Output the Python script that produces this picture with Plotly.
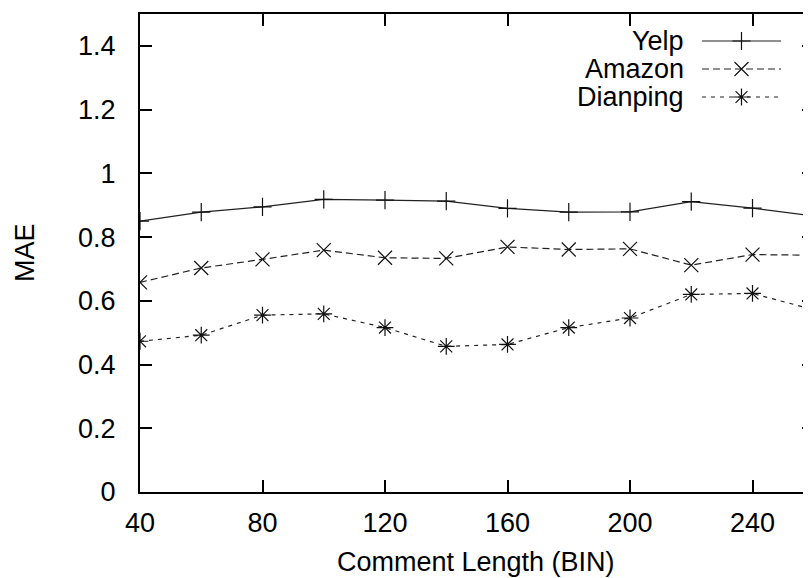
import plotly.graph_objects as go

# comment length bins
bins = [40, 60, 80, 100, 120, 140, 160, 180, 200, 220, 240, 260]

yelp = [0.850, 0.878, 0.895, 0.918, 0.916, 0.913, 0.890, 0.878, 0.879, 0.911, 0.891, 0.866]
amazon = [0.658, 0.703, 0.730, 0.759, 0.735, 0.733, 0.769, 0.761, 0.763, 0.712, 0.745, 0.743]
dianping = [0.473, 0.492, 0.555, 0.559, 0.516, 0.457, 0.463, 0.516, 0.546, 0.620, 0.623, 0.572]

series_names = ["Yelp", "Amazon", "Dianping"]
x_ticks = [40, 80, 120, 160, 200, 240]
y_ticks = [0, 0.2, 0.4, 0.6, 0.8, 1, 1.2, 1.4]

FONT = "Liberation Sans, Arial, sans-serif"
FS = 27
INK = "#111"
styles = [
    dict(dash="solid", symbol="cross-thin-open", size=13),
    dict(dash="7px,4px", symbol="x-thin-open", size=14),
    dict(dash="4px,5px", symbol="asterisk-open", size=14),
]

fig = go.Figure()
for name, vals, st in zip(series_names, [yelp, amazon, dianping], styles):
    fig.add_trace(
        go.Scatter(
            x=bins,
            y=vals,
            name=name,
            mode="lines+markers",
            line=dict(color="#222", width=1.2, dash=st["dash"]),
            marker=dict(symbol=st["symbol"], size=st["size"], color=INK,
                        line=dict(color=INK, width=1.2)),
            showlegend=False,
        )
    )

# gnuplot-like key: text on the left, sample on the right (pixel axes)
key_rows = [41, 69, 97]
for name, st, ky in zip(series_names, styles, key_rows):
    fig.add_trace(
        go.Scatter(
            x=[702, 741.5, 781],
            y=[ky, ky, ky],
            mode="lines",
            line=dict(color="#222", width=1.2, dash=st["dash"]),
            xaxis="x2", yaxis="y3", showlegend=False, hoverinfo="skip",
        )
    )
    fig.add_trace(
        go.Scatter(
            x=[741.5], y=[ky], mode="markers",
            marker=dict(symbol=st["symbol"], size=st["size"], color=INK,
                        line=dict(color=INK, width=1.2)),
            xaxis="x2", yaxis="y3", showlegend=False, hoverinfo="skip",
        )
    )
    fig.add_annotation(
        x=686, y=ky, xref="x2", yref="y3", text=name, showarrow=False,
        xanchor="right", yanchor="middle", font=dict(size=FS, family=FONT, color="black"),
    )

# dummy trace so the right-hand mirror ticks get drawn
fig.add_trace(go.Scatter(x=[None], y=[None], yaxis="y2", showlegend=False))

axis_common = dict(
    showgrid=False, zeroline=False, ticks="inside", tickcolor="black",
    tickwidth=2, ticklen=12, linecolor="black", linewidth=2,
    tickfont=dict(size=FS, family=FONT, color="black"),
)

# the page body has an 8px margin, so the figure is 8px smaller each way
fig.update_layout(
    width=803, height=570,
    margin=dict(l=132, r=0, t=6, b=86),
    plot_bgcolor="white", paper_bgcolor="white",
    font=dict(family=FONT, color="black"),
    xaxis=dict(range=[40, 259.1], tickvals=x_ticks, showline=True, mirror="ticks",
               ticklabelstandoff=6, **axis_common),
    yaxis=dict(range=[0, 1.5], tickvals=y_ticks, showline=True, mirror=False,
               ticklabelstandoff=17, **axis_common),
    yaxis2=dict(range=[0, 1.5], tickvals=y_ticks, overlaying="y", side="right",
                anchor="x", showticklabels=False, showline=False, showgrid=False,
                zeroline=False, ticks="inside", ticklen=9, tickwidth=2, tickcolor="black"),
    xaxis2=dict(range=[140, 811], domain=[0, 1], anchor="y3", overlaying="x",
                visible=False),
    yaxis3=dict(range=[492, 14], domain=[0, 1], anchor="x2", overlaying="y",
                visible=False),
    showlegend=False,
)

fig.add_annotation(
    x=0.5, y=0, xref="paper", yref="paper", yshift=-70, text="Comment Length (BIN)",
    showarrow=False, xanchor="center", yanchor="middle",
    font=dict(size=FS, family=FONT, color="black"),
)
fig.add_annotation(
    x=0, y=0.5, xref="paper", yref="paper", xshift=-115, text="MAE", textangle=-90,
    showarrow=False, xanchor="center", yanchor="middle",
    font=dict(size=FS, family=FONT, color="black"),
)

fig.write_html("out.html")
